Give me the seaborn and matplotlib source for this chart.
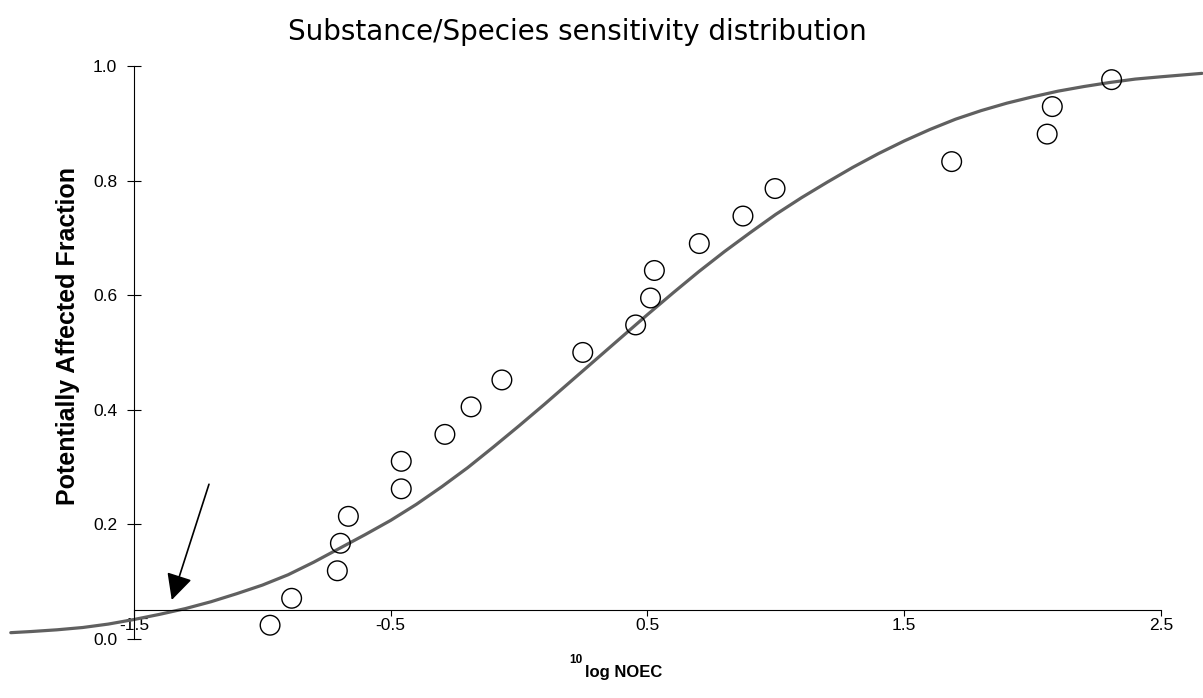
import matplotlib
matplotlib.use("Agg")
from matplotlib import pyplot as plt
import seaborn as sns

# observed points: log10 NOEC vs potentially affected fraction
log_noec = [-0.970, -0.886, -0.708, -0.696, -0.665, -0.459, -0.459, -0.289, -0.187, -0.067,
            0.248, 0.454, 0.512, 0.527, 0.702, 0.872, 0.997, 1.685, 2.057, 2.077, 2.308]
paf = [0.024, 0.071, 0.119, 0.167, 0.214, 0.262, 0.310, 0.357, 0.405, 0.452,
       0.500, 0.548, 0.595, 0.643, 0.690, 0.738, 0.786, 0.833, 0.881, 0.929, 0.976]

# fitted curve
curve_x = [-1.98, -1.9, -1.8, -1.7, -1.6, -1.5, -1.4, -1.3, -1.2, -1.1,
           -1.0, -0.9, -0.8, -0.7, -0.6, -0.5, -0.4, -0.3, -0.2, -0.1,
           0.0, 0.1, 0.2, 0.3, 0.4, 0.5, 0.6, 0.7, 0.8, 0.9,
           1.0, 1.1, 1.2, 1.3, 1.4, 1.5, 1.6, 1.7, 1.8, 1.9,
           2.0, 2.1, 2.2, 2.3, 2.4, 2.5, 2.66]
curve_y = [0.011, 0.013, 0.016, 0.020, 0.026, 0.034, 0.043, 0.053, 0.065, 0.079,
           0.094, 0.112, 0.134, 0.158, 0.182, 0.207, 0.235, 0.266, 0.299, 0.335,
           0.372, 0.410, 0.449, 0.488, 0.527, 0.566, 0.604, 0.641, 0.676, 0.709,
           0.741, 0.770, 0.797, 0.823, 0.847, 0.869, 0.889, 0.907, 0.922, 0.935,
           0.946, 0.956, 0.964, 0.971, 0.977, 0.981, 0.987]

x_ticks = [-1.5, -0.5, 0.5, 1.5, 2.5]
y_ticks = [0.0, 0.2, 0.4, 0.6, 0.8, 1.0]

sns.set_style("white")
plt.rcParams['font.family'] = ['Liberation Sans', 'DejaVu Sans']
plt.rcParams['text.color'] = 'black'

fig = plt.figure(figsize=(12.03, 6.98), dpi=100)
ax = fig.add_axes([0, 0, 1, 1])
ax.patch.set_alpha(0)

sns.lineplot(x=curve_x, y=curve_y, ax=ax, color="#606060", linewidth=2.3,
             sort=False, estimator=None)
sns.scatterplot(x=log_noec, y=paf, ax=ax, s=200, facecolor="none",
                edgecolor="black", linewidth=1.0, zorder=3)

ax.annotate("", xy=(-1.353, 0.068), xytext=(-1.208, 0.270),
            arrowprops=dict(arrowstyle="-|>,head_length=0.8,head_width=0.4",
                            mutation_scale=20, color="black", lw=1.2,
                            shrinkA=0, shrinkB=0))

ax.set_xlim(-2.022, 2.664)
ax.set_ylim(-0.103, 1.115)

for side in ["top", "right"]:
    ax.spines[side].set_visible(False)
ax.spines["left"].set_position(("data", -1.5))
ax.spines["left"].set_bounds(0, 1)
ax.spines["bottom"].set_position(("data", 0.05))
ax.spines["bottom"].set_bounds(-1.5, 2.5)
for side in ["left", "bottom"]:
    ax.spines[side].set_color("black")
    ax.spines[side].set_linewidth(0.8)

ax.set_xticks(x_ticks)
ax.set_xticklabels([f"{t:.1f}" for t in x_ticks])
ax.set_yticks(y_ticks)
ax.set_yticklabels([f"{t:.1f}" for t in y_ticks])
ax.tick_params(axis="y", direction="inout", length=9.4, width=0.8, pad=7.5,
               labelsize=12.5, colors="black", left=True)
ax.tick_params(axis="x", direction="out", length=4.3, width=0.8, pad=1.5,
               labelsize=12.5, colors="black", bottom=True)
ax.set_xlabel("")
ax.set_ylabel("")

fig.text(577 / 1203, 1 - 32 / 698, "Substance/Species sensitivity distribution",
         ha="center", va="center", fontsize=20, family="DejaVu Sans")
fig.text(68 / 1203, 1 - 336 / 698, "Potentially Affected Fraction", rotation=90,
         ha="center", va="center", fontsize=18, fontweight="bold")
fig.text(585 / 1203, 1 - 673 / 698, "log NOEC", ha="left", va="center",
         fontsize=12, fontweight="bold")
fig.text(583 / 1203, 1 - 660 / 698, "10", ha="right", va="center",
         fontsize=8.5, fontweight="bold")

fig.savefig("out.png", dpi=100)
